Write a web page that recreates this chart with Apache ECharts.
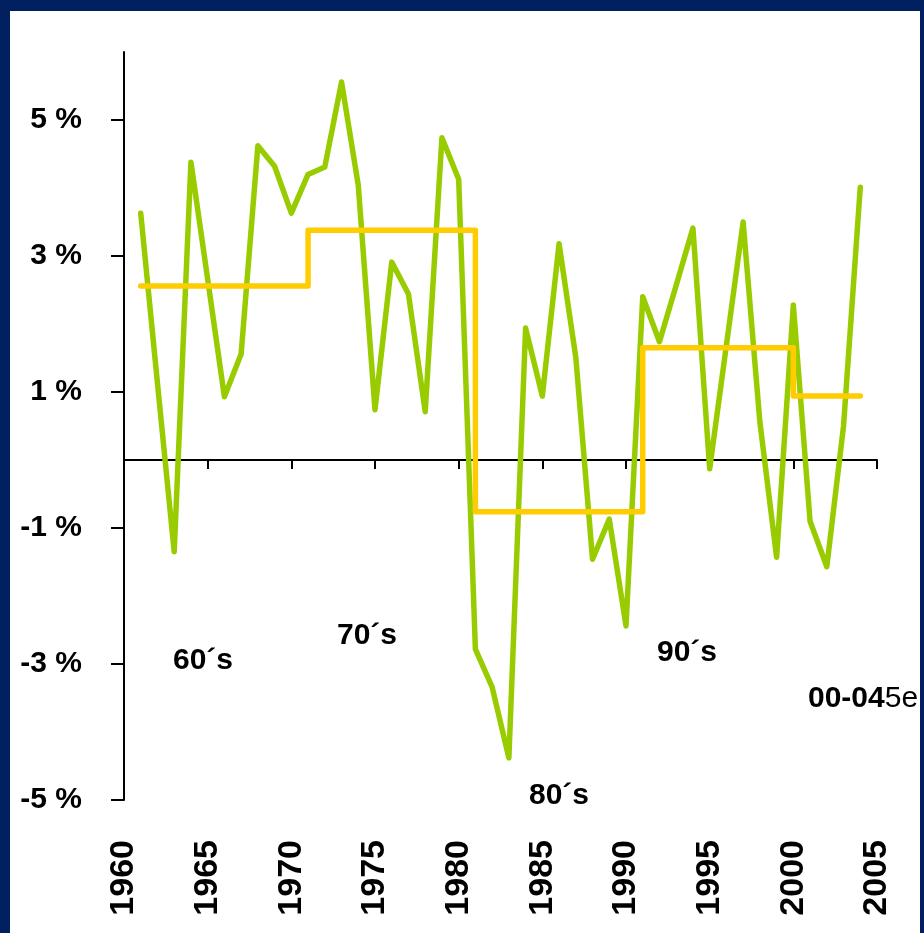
<!DOCTYPE html>
<html>
<head>
<meta charset="utf-8">
<script src="https://cdn.jsdelivr.net/npm/echarts@6/dist/echarts.min.js"></script>
<style>
  body { margin: 0; background: #002060; width: 924px; height: 933px; overflow: hidden; }
  #myChart { position: absolute; left: 10px; top: 11px; width: 910px; height: 922px; background: #fff; }
</style>
</head>
<body>
<div id="myChart"></div>
<script>
// yearly growth, %
var years = [1961, 1962, 1963, 1964, 1965, 1966, 1967, 1968, 1969, 1970,
             1971, 1972, 1973, 1974, 1975, 1976, 1977, 1978, 1979, 1980,
             1981, 1982, 1983, 1984, 1985, 1986, 1987, 1988, 1989, 1990,
             1991, 1992, 1993, 1994, 1995, 1996, 1997, 1998, 1999, 2000,
             2001, 2002, 2003, 2004];
var growth = [3.63, 1.13, -1.35, 4.38, 2.66, 0.93, 1.56, 4.62, 4.32, 3.63,
              4.20, 4.31, 5.56, 4.04, 0.74, 2.91, 2.44, 0.71, 4.74, 4.13,
              -2.78, -3.34, -4.38, 1.94, 0.94, 3.18, 1.51, -1.46, -0.87, -2.44,
              2.40, 1.74, 2.57, 3.41, -0.13, 1.69, 3.50, 0.56, -1.43, 2.28,
              -0.90, -1.57, 0.50, 4.01];

// decade averages
var decadeStart = [1961, 1971, 1981, 1991, 2000];
var decadeEnd = [1971, 1981, 1991, 2000, 2004];
var decadeMean = [2.56, 3.38, -0.76, 1.65, 0.94];

var yTicks = [-5, -3, -1, 1, 3, 5];

var growthData = years.map(function (y, i) { return [y, growth[i]]; });
var stepData = [];
decadeStart.forEach(function (s, i) {
    stepData.push([s, decadeMean[i]]);
    stepData.push([decadeEnd[i], decadeMean[i]]);
});

var sans = 'Liberation Sans';

function decadeText(txt, x, y) {
    return {
        type: 'text', left: x, top: y,
        style: { text: txt, fontFamily: sans, fontWeight: 'bold', fontSize: 30, fill: '#000' }
    };
}

var option = {
    animation: false,
    grid: { left: 114, top: 41, right: 43, bottom: 133, outerBoundsMode: 'none', containLabel: false },
    xAxis: [
        {
            type: 'value', min: 1960, max: 2005, interval: 5,
            axisLine: { onZero: true, lineStyle: { color: '#000', width: 2 } },
            axisTick: { show: true, length: 9, lineStyle: { color: '#000', width: 2 } },
            axisLabel: { show: false },
            splitLine: { show: false }
        },
        {
            type: 'value', min: 1960, max: 2005, interval: 5, position: 'bottom',
            axisLine: { show: false, onZero: false },
            axisTick: { show: false },
            splitLine: { show: false },
            axisLabel: {
                rotate: 90, margin: 40, color: '#000',
                fontFamily: sans, fontWeight: 'bold', fontSize: 34,
                formatter: function (v) { return String(v); }
            }
        }
    ],
    yAxis: {
        type: 'value', min: -5, max: 6,
        axisLine: { show: true, onZero: false, lineStyle: { color: '#000', width: 2 } },
        axisTick: { show: true, length: 13, customValues: yTicks, lineStyle: { color: '#000', width: 2 } },
        splitLine: { show: false },
        axisLabel: {
            customValues: yTicks, margin: 42, color: '#000',
            fontFamily: sans, fontWeight: 'bold', fontSize: 30,
            formatter: function (v) { return v + ' %'; }
        }
    },
    series: [
        {
            type: 'line', data: growthData, showSymbol: false, symbol: 'none',
            lineStyle: { color: '#99CC00', width: 5.5, cap: 'round', join: 'round' }
        },
        {
            type: 'line', data: stepData, showSymbol: false, symbol: 'none',
            lineStyle: { color: '#FFCC00', width: 5.5, cap: 'round', join: 'round' }
        }
    ],
    graphic: [
        decadeText('60´s', 163, 635),
        decadeText('70´s', 327, 610),
        decadeText('80´s', 519, 770),
        decadeText('90´s', 647, 627),
        {
            type: 'text', left: 798, top: 673,
            style: {
                text: '{b|00-04}{n|5e}',
                rich: {
                    b: { fontFamily: sans, fontWeight: 'bold', fontSize: 30, fill: '#000' },
                    n: { fontFamily: sans, fontSize: 30, fill: '#000' }
                }
            }
        }
    ]
};

var myChart = echarts.init(document.getElementById('myChart'));
myChart.setOption(option);
</script>
</body>
</html>
